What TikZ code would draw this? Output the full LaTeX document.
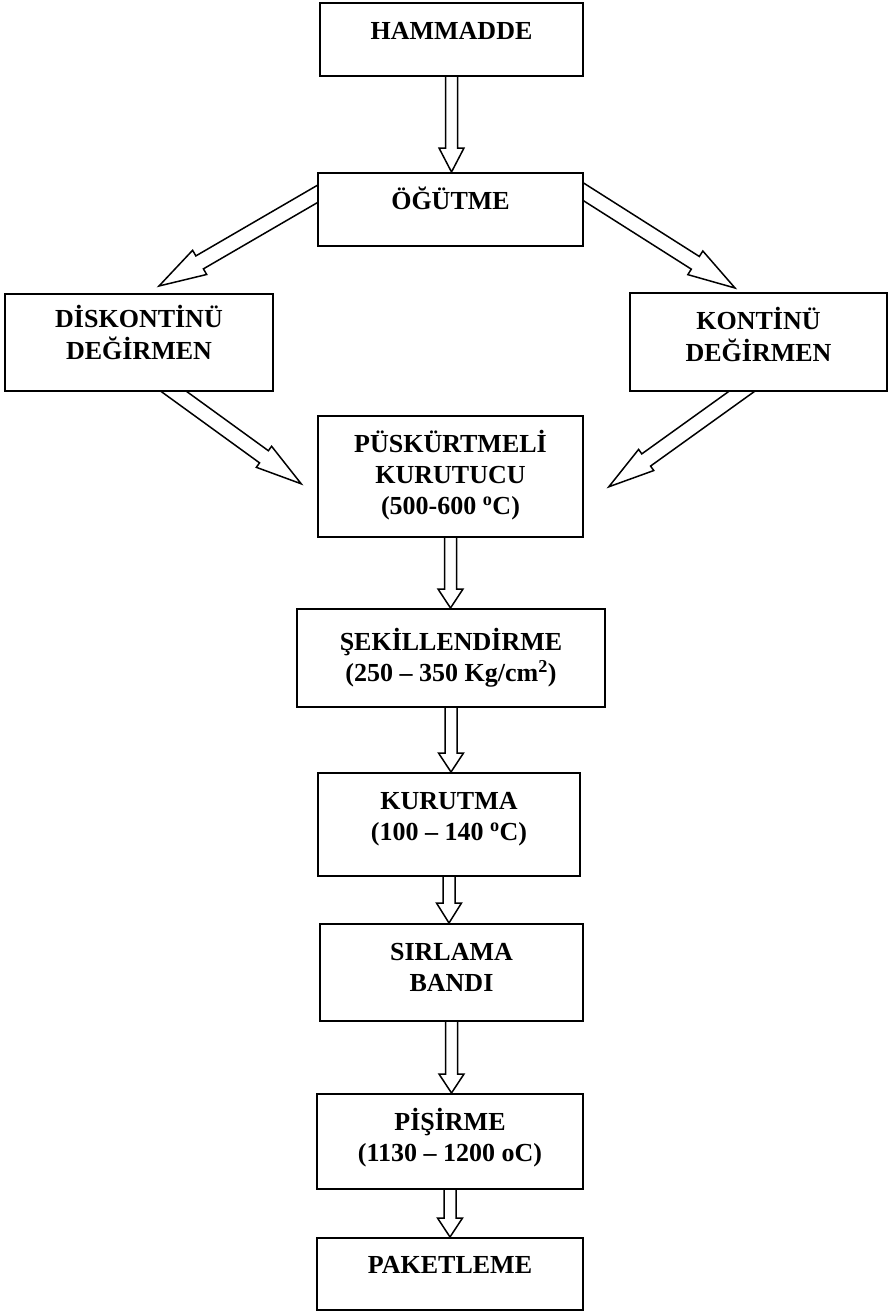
\documentclass[tikz,border=0pt]{standalone}
\usepackage{fontspec}
\setmainfont{Liberation Serif}
\usetikzlibrary{calc,backgrounds}

% hollow block arrow: shaft half width, head half width, head length, tail, tip
\newcommand{\blockarrow}[5]{%
  \coordinate (hb) at ($(#5)!#3!(#4)$);
  \draw[arrowline] ($(#4)!#1!90:(#5)$) -- ($(hb)!#1!90:(#5)$) -- ($(hb)!#2!90:(#5)$) -- (#5)
    -- ($(hb)!#2!-90:(#5)$) -- ($(hb)!#1!-90:(#5)$) -- ($(#4)!#1!-90:(#5)$);
}
\newcommand{\boxlines}[1]{\begin{tabular}[t]{@{}c@{}}#1\end{tabular}}

\tikzset{
  stepbox/.style={draw, fill=white, line width=1.6pt, inner sep=0pt, anchor=north,
    font=\bfseries\fontsize{26}{31}\selectfont, text height=37pt},
  arrowline/.style={line width=1.5pt}
}

\begin{document}
\begin{tikzpicture}[x=1pt, y=-1pt]
  \useasboundingbox (0,0) rectangle (890,1311);

  \node[stepbox, minimum width=263pt, text depth=36pt] (hammadde) at (451.5,2) {\boxlines{HAMMADDE}};
  \node[stepbox, minimum width=265pt, text depth=36pt] (ogutme) at (450.5,172) {\boxlines{ÖĞÜTME}};
  \node[stepbox, minimum width=268pt, text height=34pt, text depth=63pt] (diskontinu) at (139,293) {\boxlines{DİSKONTİNÜ\\DEĞİRMEN}};
  \node[stepbox, minimum width=257pt, text depth=61pt] (kontinu) at (758.5,292) {\boxlines{KONTİNÜ\\DEĞİRMEN}};
  \node[stepbox, minimum width=265pt, text depth=84pt] (puskurtme) at (450.5,415) {\boxlines{PÜSKÜRTMELİ\\KURUTUCU\\(500-600 \textsuperscript{o}C)}};
  \node[stepbox, minimum width=308pt, text height=42pt, text depth=56pt] (sekil) at (451,608) {\boxlines{ŞEKİLLENDİRME\\(250 – 350 Kg/cm\textsuperscript{2})}};
  \node[stepbox, minimum width=262pt, text depth=66pt] (kurutma) at (449,772) {\boxlines{KURUTMA\\(100 – 140 \textsuperscript{o}C)}};
  \node[stepbox, minimum width=263pt, text depth=60pt] (sirlama) at (451.5,923) {\boxlines{SIRLAMA\\BANDI}};
  \node[stepbox, minimum width=266pt, text depth=58pt] (pisirme) at (450,1093) {\boxlines{PİŞİRME\\(1130 – 1200 oC)}};
  \node[stepbox, minimum width=266pt, text height=36pt, text depth=36pt] (paketleme) at (450,1237) {\boxlines{PAKETLEME}};

  % ends of the slanted arrows
  \coordinate (a1) at ([shift={(17.3,12)}]ogutme.north west);
  \coordinate (a2) at ([shift={(20,-7)}]diskontinu.north);
  \coordinate (b1) at ([shift={(-16.9,9.3)}]ogutme.north east);
  \coordinate (b2) at ([shift={(-23.5,-4)}]kontinu.north);
  \coordinate (c1) at ([shift={(18.8,-11.8)}]diskontinu.south);
  \coordinate (c2) at ([shift={(-16,7.5)}]puskurtme.west);
  \coordinate (d1) at ([shift={(-0.8,-11.7)}]kontinu.south);
  \coordinate (d2) at ([shift={(25,10.5)}]puskurtme.east);

  \begin{scope}[on background layer]
    \blockarrow{6pt}{12.5pt}{24pt}{hammadde.south}{hammadde.south |- ogutme.north}
    \blockarrow{7.5pt}{14pt}{47pt}{a1}{a2}
    \blockarrow{7.5pt}{14pt}{47pt}{b1}{b2}
    \blockarrow{7.5pt}{13pt}{46pt}{c1}{c2}
    \blockarrow{7.5pt}{13pt}{46pt}{d1}{d2}
    \blockarrow{6pt}{12.5pt}{19pt}{puskurtme.south}{puskurtme.south |- sekil.north}
    \blockarrow{6pt}{12.5pt}{19pt}{sekil.south}{sekil.south |- kurutma.north}
    \blockarrow{6pt}{12.5pt}{20pt}{kurutma.south}{kurutma.south |- sirlama.north}
    \blockarrow{6pt}{12.5pt}{19pt}{sirlama.south}{sirlama.south |- pisirme.north}
    \blockarrow{6pt}{12.5pt}{19pt}{pisirme.south}{pisirme.south |- paketleme.north}
  \end{scope}
\end{tikzpicture}
\end{document}
